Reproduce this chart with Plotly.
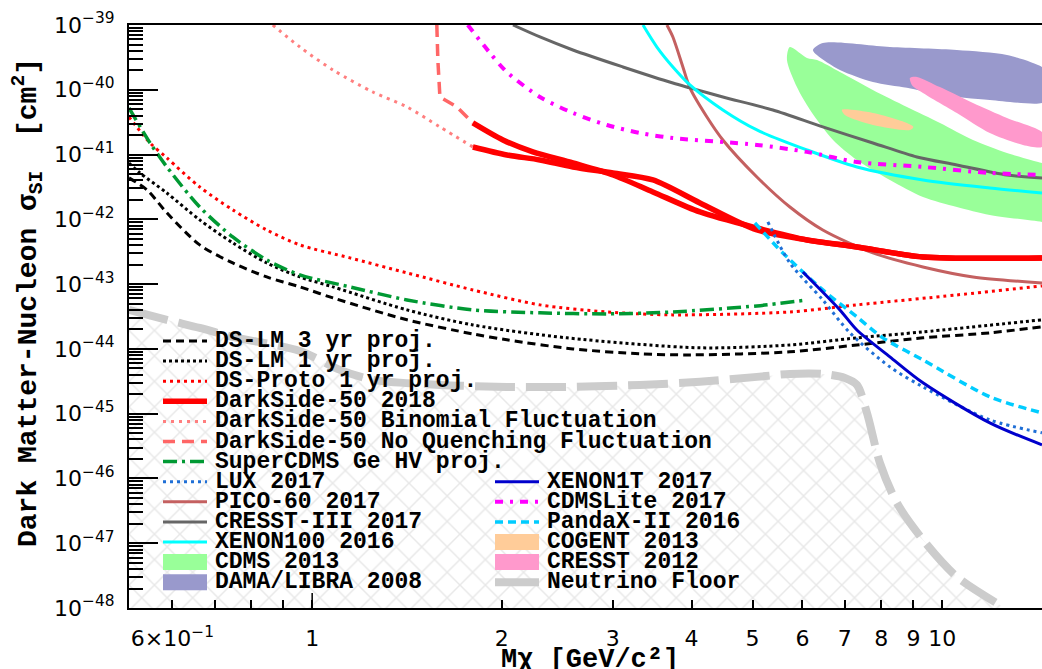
import math
import plotly.graph_objects as go

# ---------------- data: WIMP mass [GeV/c^2] and SI cross-section [cm^2] ----------------
dslm3_mass = [0.512, 0.547, 0.588, 0.663, 0.748, 0.847, 0.956, 1.079, 1.414, 1.799, 2.037, 2.593, 3.313, 3.977, 5.731, 7.322, 9.320, 11.90, 14.40]
dslm3_xs = [4.36e-42, 2.84e-42, 1.26e-42, 4.03e-43, 2.12e-43, 1.29e-43, 9.06e-44, 6.12e-44, 2.81e-44, 1.70e-44, 1.38e-44, 1.00e-44, 8.4e-45, 8.07e-45, 9.0e-45, 1.15e-44, 1.48e-44, 1.77e-44, 2.19e-44]

dslm1_mass = [0.512, 0.533, 0.588, 0.663, 0.748, 0.847, 0.956, 1.079, 1.414, 1.799, 2.537, 4.125, 5.731, 7.322, 9.320, 14.40]
dslm1_xs = [7.41e-42, 5.20e-42, 2.55e-42, 9.79e-43, 4.33e-43, 2.12e-43, 1.29e-43, 9.06e-44, 4.0e-44, 2.34e-44, 1.48e-44, 1.04e-44, 1.15e-44, 1.48e-44, 1.83e-44, 2.81e-44]

dsproto_mass = [0.512, 0.553, 0.588, 0.663, 0.748, 0.847, 0.956, 1.148, 1.414, 1.799, 2.299, 2.937, 3.737, 5.731, 7.322, 10.55, 14.40]
dsproto_xs = [3.80e-41, 1.51e-41, 8.87e-42, 3.16e-42, 1.40e-42, 6.85e-43, 4.03e-43, 2.54e-43, 1.49e-43, 8.13e-44, 4.78e-44, 3.72e-44, 3.35e-44, 3.72e-44, 4.78e-44, 6.81e-44, 9.38e-44]

ds50a_mass = [1.799, 2.008, 2.240, 2.593, 3.002, 3.474, 4.125, 5.080, 6.098, 7.322, 9.320, 14.40]
ds50a_xs = [3.08e-41, 1.68e-41, 1.10e-41, 7.41e-42, 4.84e-42, 2.65e-42, 1.30e-42, 7.36e-43, 4.81e-43, 3.75e-43, 2.63e-43, 2.54e-43]
ds50b_mass = [1.799, 2.037, 2.299, 2.593, 3.002, 3.474, 4.125, 5.080, 6.098, 7.322, 9.320, 14.40]
ds50b_xs = [1.31e-41, 9.86e-42, 8.26e-42, 6.44e-42, 5.20e-42, 4.06e-42, 1.79e-42, 6.85e-43, 4.81e-43, 3.75e-43, 2.63e-43, 2.54e-43]

binom_mass = [0.866, 0.956, 1.079, 1.248, 1.414, 1.595, 1.799]
binom_xs = [1.0e-39, 4.57e-40, 2.02e-40, 9.25e-41, 5.43e-41, 2.67e-41, 1.31e-41]

noquench_mass = [1.577, 1.583, 1.595, 1.697, 1.799]
noquench_xs = [1.0e-39, 2.88e-40, 7.74e-41, 5.43e-41, 3.08e-41]

supercdms_mass = [0.512, 0.553, 0.588, 0.663, 0.748, 0.847, 0.956, 1.148, 1.414, 1.799, 2.299, 2.937, 3.737, 5.080, 6.098]
supercdms_xs = [5.24e-41, 1.51e-41, 6.44e-42, 1.55e-42, 5.35e-43, 2.36e-43, 1.39e-43, 9.06e-44, 5.70e-44, 4.0e-44, 3.60e-44, 3.47e-44, 3.72e-44, 4.61e-44, 5.70e-44]

lux_mass = [5.288, 5.731, 6.463, 7.137, 8.260, 9.320, 11.90, 14.40]
lux_xs = [9.12e-43, 2.12e-43, 5.70e-44, 1.77e-44, 5.27e-45, 2.59e-45, 8.02e-46, 5.06e-46]

pico_mass = [3.656, 3.737, 3.876, 3.977, 4.232, 4.486, 5.080, 5.731, 6.463, 7.762, 9.320, 11.19, 14.40]
pico_xs = [1.0e-39, 6.53e-40, 2.25e-40, 1.07e-40, 3.80e-41, 1.68e-41, 4.51e-42, 1.55e-42, 6.85e-43, 3.03e-43, 1.84e-43, 1.29e-43, 1.04e-43]

cresst3_mass = [2.083, 2.299, 2.593, 3.113, 3.737, 3.977, 4.486, 5.386, 6.463, 7.762, 9.117, 10.55, 12.67, 14.40]
cresst3_xs = [1.0e-39, 6.53e-40, 4.11e-40, 2.25e-40, 1.27e-40, 1.07e-40, 7.74e-41, 4.88e-41, 2.67e-41, 1.51e-41, 9.18e-42, 6.92e-42, 4.84e-42, 4.36e-42]

xenon100_mass = [3.35, 3.525, 3.737, 3.977, 4.486, 5.080, 6.098, 7.322, 9.320, 11.90, 14.40]
xenon100_xs = [1.0e-39, 4.57e-40, 2.25e-40, 1.19e-40, 4.88e-41, 2.40e-41, 1.18e-41, 6.44e-42, 4.06e-42, 3.05e-42, 2.55e-42]

xenon1t_mass = [6.010, 6.880, 7.322, 8.260, 9.320, 11.90, 14.40]
xenon1t_xs = [1.54e-43, 4.0e-44, 1.96e-44, 7.53e-45, 2.99e-45, 7.21e-46, 3.30e-46]

cdmslite_mass = [1.766, 1.915, 2.037, 2.299, 2.593, 2.937, 3.313, 3.737, 5.080, 6.098, 7.322, 9.320, 11.90, 14.40]
cdmslite_xs = [1.0e-39, 3.70e-40, 1.88e-40, 7.74e-41, 4.39e-41, 2.86e-41, 2.15e-41, 1.80e-41, 1.41e-41, 1.10e-41, 7.69e-42, 6.44e-42, 5.20e-42, 4.84e-42]

pandax_mass = [5.043, 5.586, 6.463, 7.322, 8.052, 9.320, 11.90, 14.40]
pandax_xs = [8.79e-43, 3.03e-43, 8.13e-44, 3.12e-44, 1.48e-44, 6.76e-45, 1.82e-45, 1.03e-45]

nu_mass = [0.512, 0.588, 0.663, 0.748, 0.956, 1.107, 1.248, 1.595, 2.037, 2.593, 3.313, 4.125, 5.080, 5.731, 6.463, 7.008, 7.322, 7.595, 7.963, 8.473, 9.320, 10.55, 12.49]
nu_xs = [4.0e-44, 2.81e-44, 2.11e-44, 1.53e-44, 9.3e-45, 4.74e-45, 3.33e-45, 2.78e-45, 2.59e-45, 2.59e-45, 2.78e-45, 3.10e-45, 3.70e-45, 4.11e-45, 4.11e-45, 3.56e-45, 2.78e-45, 1.03e-45, 1.74e-46, 4.20e-47, 1.13e-47, 3.03e-48, 1.04e-48]

# closed contours of the signal regions
cdms13_mass = [5.73, 6.10, 6.33, 6.88, 7.76, 8.79, 9.92, 11.19, 12.67, 14.4, 15.0, 15.0, 14.4, 11.90, 10.55, 9.32, 8.26, 7.32, 6.71, 6.17, 5.88, 5.67, 5.73]
cdms13_xs = [4.57e-40, 3.10e-40, 2.88e-40, 1.88e-40, 9.93e-41, 5.43e-41, 3.08e-41, 1.68e-41, 1.06e-41, 7.41e-42, 6.8e-42, 8.5e-43, 9.12e-43, 1.17e-42, 1.55e-42, 2.22e-42, 4.06e-42, 8.26e-42, 1.68e-41, 4.88e-41, 1.10e-40, 2.88e-40, 4.57e-40]

dama_mass = [6.234, 6.463, 8.260, 10.55, 12.67, 14.40, 14.9, 14.9, 14.40, 11.90, 9.915, 8.790, 7.762, 6.880, 6.326, 6.234]
dama_xs = [4.11e-40, 5.27e-40, 4.57e-40, 4.11e-40, 3.44e-40, 2.25e-40, 1.7e-40, 8.0e-41, 6.25e-41, 6.97e-41, 8.32e-41, 1.07e-40, 1.32e-40, 2.02e-40, 3.44e-40, 4.11e-40]

cresst12_mass = [8.887, 9.117, 9.915, 11.19, 12.67, 14.40, 14.6, 14.40, 13.43, 11.90, 10.55, 9.320, 8.95, 8.887]
cresst12_xs = [1.52e-40, 1.58e-40, 1.10e-40, 6.25e-41, 3.67e-41, 2.23e-41, 1.68e-41, 1.31e-41, 1.41e-41, 2.15e-41, 4.39e-41, 8.93e-41, 1.19e-40, 1.52e-40]

cogent_mass = [6.931, 7.762, 8.790, 9.00, 8.887, 7.762, 7.008, 6.931]
cogent_xs = [4.88e-41, 4.39e-41, 3.08e-41, 2.67e-41, 2.40e-41, 2.86e-41, 4.08e-41, 4.88e-41]

# axis ticks
x_tick_vals = [0.6, 1, 2, 3, 4, 5, 6, 7, 8, 9, 10]
x_tick_text = ["6\u00d710<sup>\u22121</sup>", "1", "2", "3", "4", "5", "6", "7", "8", "9", "10"]
y_exponents = list(range(-48, -38))

# ---------------- styles ----------------
MONO = "Liberation Mono"
styles = {
    "DS-LM 3 yr proj.": dict(kind="line", color="#000000", width=3, dash="8px,5px"),
    "DS-LM 1 yr proj.": dict(kind="line", color="#000000", width=3, dash="3px,3px"),
    "DS-Proto 1 yr proj.": dict(kind="line", color="#ff0000", width=3, dash="3px,4px"),
    "DarkSide-50 2018": dict(kind="line", color="#ff0000", width=5.5, dash="solid"),
    "DarkSide-50 Binomial Fluctuation": dict(kind="line", color="#ff7f7f", width=3, dash="3px,5px"),
    "DarkSide-50 No Quenching Fluctuation": dict(kind="line", color="#ff6666", width=3.5, dash="12px,7px"),
    "SuperCDMS Ge HV proj.": dict(kind="line", color="#009933", width=3.5, dash="14px,5px,3px,5px"),
    "LUX 2017": dict(kind="line", color="#1f6fd6", width=3, dash="3px,4px"),
    "PICO-60 2017": dict(kind="line", color="#c46060", width=3, dash="solid"),
    "CRESST-III 2017": dict(kind="line", color="#666666", width=3, dash="solid"),
    "XENON100 2016": dict(kind="line", color="#00ffff", width=3, dash="solid"),
    "CDMS 2013": dict(kind="fill", color="#99ff99"),
    "DAMA/LIBRA 2008": dict(kind="fill", color="#9999cc"),
    "XENON1T 2017": dict(kind="line", color="#0000cc", width=3, dash="solid"),
    "CDMSLite 2017": dict(kind="line", color="#ff00ff", width=4, dash="8px,7px,3px,7px"),
    "PandaX-II 2016": dict(kind="line", color="#00ccff", width=3.5, dash="8px,5px"),
    "COGENT 2013": dict(kind="fill", color="#ffcc99"),
    "CRESST 2012": dict(kind="fill", color="#ff99cc"),
    "Neutrino Floor": dict(kind="line", color="#cccccc", width=8, dash="40px,11px"),
}

fig = go.Figure()

# hatched region below the neutrino floor
fig.add_trace(go.Scatter(
    x=nu_mass + [nu_mass[-1], nu_mass[0]], y=nu_xs + [1e-48, 1e-48],
    mode="lines", fill="toself", line=dict(width=0, color="rgba(0,0,0,0)"),
    fillcolor="rgba(0,0,0,0)",
    fillpattern=dict(shape="x", fgcolor="#d2d2d2", bgcolor="rgba(255,255,255,0)", size=18, solidity=0.16),
    hoverinfo="skip", showlegend=False))

def add_region(name, xs, ys):
    st = styles[name]
    fig.add_trace(go.Scatter(x=xs, y=ys, mode="lines", fill="toself", fillcolor=st["color"],
                             line=dict(width=0, color=st["color"], shape="spline", smoothing=0.8),
                             name=name, showlegend=False))

def add_line(name, xs, ys, shape="spline"):
    st = styles[name]
    fig.add_trace(go.Scatter(x=xs, y=ys, mode="lines",
                             line=dict(color=st["color"], width=st["width"], dash=st["dash"], shape=shape, smoothing=0.8),
                             name=name, showlegend=False))

add_region("CDMS 2013", cdms13_mass, cdms13_xs)
add_region("DAMA/LIBRA 2008", dama_mass, dama_xs)
add_region("CRESST 2012", cresst12_mass, cresst12_xs)
add_region("COGENT 2013", cogent_mass, cogent_xs)

add_line("Neutrino Floor", nu_mass, nu_xs)
add_line("DS-LM 3 yr proj.", dslm3_mass, dslm3_xs)
add_line("DS-LM 1 yr proj.", dslm1_mass, dslm1_xs)
add_line("DS-Proto 1 yr proj.", dsproto_mass, dsproto_xs)
add_line("SuperCDMS Ge HV proj.", supercdms_mass, supercdms_xs)
add_line("PICO-60 2017", pico_mass, pico_xs)
add_line("CRESST-III 2017", cresst3_mass, cresst3_xs)
add_line("XENON100 2016", xenon100_mass, xenon100_xs)
add_line("CDMSLite 2017", cdmslite_mass, cdmslite_xs)
add_line("DarkSide-50 Binomial Fluctuation", binom_mass, binom_xs)
add_line("DarkSide-50 No Quenching Fluctuation", noquench_mass, noquench_xs, shape="linear")
add_line("DarkSide-50 2018", ds50a_mass, ds50a_xs)
add_line("DarkSide-50 2018", ds50b_mass, ds50b_xs)
add_line("PandaX-II 2016", pandax_mass, pandax_xs)
add_line("LUX 2017", lux_mass, lux_xs)
add_line("XENON1T 2017", xenon1t_mass, xenon1t_xs)

# ---------------- layout ----------------
W, H = 1042, 669
PL, PT, PR, PB = 129, 25, 0, 61
PW, PH = W - PL - PR, H - PT - PB

def px(x):
    return (x - PL) / PW

def py(y):
    return (PT + PH - y) / PH

y_minor = [k * 10.0 ** e for e in y_exponents[:-1] for k in range(2, 10)]

fig.update_layout(
    width=W, height=H, autosize=False,
    margin=dict(l=PL, r=PR, t=PT, b=PB, autoexpand=False),
    paper_bgcolor="white", plot_bgcolor="white",
    showlegend=False,
    xaxis=dict(type="log", range=[math.log10(0.512), math.log10(14.4)],
               showgrid=False, zeroline=False,
               showline=True, linecolor="black", linewidth=2, mirror=True,
               ticks="inside", ticklen=8, tickwidth=1.5, tickcolor="black",
               tickvals=x_tick_vals, ticktext=x_tick_text,
               tickfont=dict(family="DejaVu Sans", size=22, color="black"),
               ticklabelstandoff=10,
               minor=dict(tickvals=[0.7, 0.8, 0.9], ticks="inside", ticklen=8, tickwidth=1.5, tickcolor="black", showgrid=False)),
    yaxis=dict(type="log", range=[-48, -39],
               showgrid=False, zeroline=False,
               showline=True, linecolor="black", linewidth=2, mirror=False,
               ticks="inside", ticklen=29, tickwidth=1.5, tickcolor="black",
               tickvals=[10.0 ** e for e in y_exponents],
               ticktext=["10<sup>\u2212%d</sup>" % (-e) for e in y_exponents],
               tickfont=dict(family="DejaVu Sans", size=22, color="black"),
               ticklabelstandoff=8,
               minor=dict(tickvals=y_minor, ticks="inside", ticklen=14, tickwidth=1.5, tickcolor="black", showgrid=False)),
)

shapes = []
annotations = []

# longer ticks at decades on x
for dec in [0, 1]:
    shapes.append(dict(type="line", xref="x", yref="paper", x0=dec, x1=dec, y0=0, y1=15 / PH,
                       line=dict(color="black", width=1.5)))

# legend (two columns, drawn manually)
legend_left = ["DS-LM 3 yr proj.", "DS-LM 1 yr proj.", "DS-Proto 1 yr proj.", "DarkSide-50 2018",
               "DarkSide-50 Binomial Fluctuation", "DarkSide-50 No Quenching Fluctuation",
               "SuperCDMS Ge HV proj.", "LUX 2017", "PICO-60 2017", "CRESST-III 2017",
               "XENON100 2016", "CDMS 2013", "DAMA/LIBRA 2008"]
legend_right = ["XENON1T 2017", "CDMSLite 2017", "PandaX-II 2016", "COGENT 2013", "CRESST 2012", "Neutrino Floor"]

ROW0, ROWH = 341, 20.1

def legend_entry(name, row, x_sym0, x_sym1, x_text):
    st = styles[name]
    yc = ROW0 + row * ROWH
    if st["kind"] == "fill":
        shapes.append(dict(type="rect", xref="paper", yref="paper",
                           x0=px(x_sym0), x1=px(x_sym1), y0=py(yc + 8), y1=py(yc - 8),
                           fillcolor=st["color"], line=dict(width=0)))
    else:
        dash = st["dash"] if name != "Neutrino Floor" else "solid"
        shapes.append(dict(type="line", xref="paper", yref="paper",
                           x0=px(x_sym0), x1=px(x_sym1), y0=py(yc), y1=py(yc),
                           line=dict(color=st["color"], width=st["width"], dash=dash)))
    annotations.append(dict(xref="paper", yref="paper", x=px(x_text), y=py(yc),
                            xanchor="left", yanchor="middle", showarrow=False, text=name,
                            font=dict(family=MONO, size=23, color="black", weight="bold")))

for i, nm in enumerate(legend_left):
    legend_entry(nm, i, 163, 207, 213)
for i, nm in enumerate(legend_right):
    legend_entry(nm, i + 7, 495, 539, 545)

# axis titles
annotations.append(dict(xref="paper", yref="paper", x=px(28), y=py(303), xanchor="center", yanchor="middle",
                        textangle=-90, showarrow=False,
                        text="Dark Matter-Nucleon \u03c3<sub>SI</sub>  [cm<sup>2</sup>]",
                        font=dict(family=MONO, size=28, color="black", weight="bold")))
annotations.append(dict(xref="paper", yref="paper", x=px(590), y=py(643), xanchor="center", yanchor="top",
                        showarrow=False, text="M\u03c7 [GeV/c\u00b2]",
                        font=dict(family=MONO, size=27, color="black", weight="bold")))

fig.update_layout(shapes=shapes, annotations=annotations)

fig.write_html("out.html")
